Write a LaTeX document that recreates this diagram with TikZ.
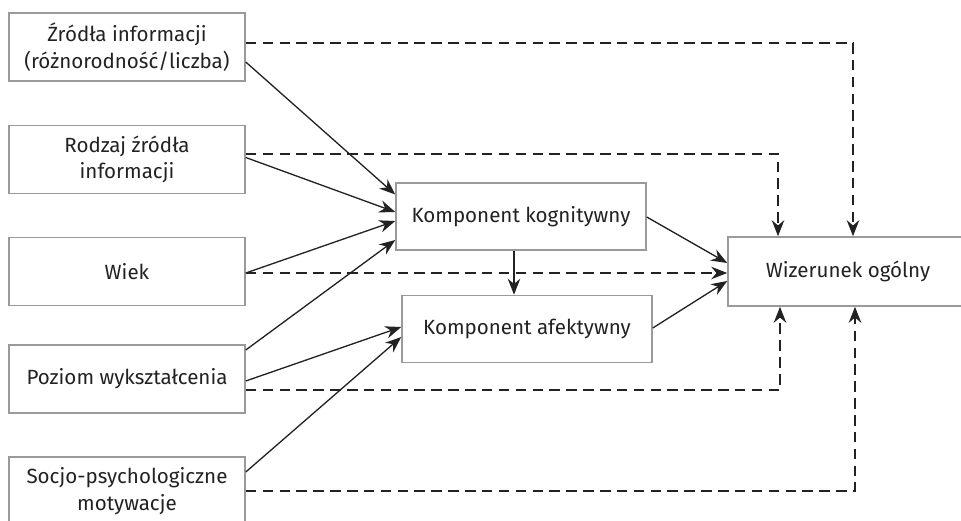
\documentclass[tikz,border=0pt]{standalone}
\usepackage{fontspec}
\setmainfont{Fira Sans}
\usetikzlibrary{arrows.meta,calc}

\definecolor{boxgray}{HTML}{9A9A9A}
\definecolor{inkgray}{HTML}{222222}

\begin{document}
\begin{tikzpicture}[x=0.02cm, y=-0.02cm, >={Stealth[length=3.2mm,width=2.5mm]},
    box/.style={draw=boxgray, line width=0.9pt, fill=white, align=center, text=inkgray,
        font=\fontsize{11.7}{15}\selectfont, inner sep=2pt},
    factor/.style={box, minimum width=4.72cm, minimum height=1.36cm},
    comp/.style={box, minimum width=5cm, minimum height=1.34cm},
    solid link/.style={->, inkgray, line width=0.75pt},
    dash link/.style={->, inkgray, line width=0.75pt, dash pattern=on 6pt off 3.6pt}]
    \useasboundingbox (0,0) rectangle (961,521);

    % Factors (left column)
    \node[factor] (zrodla) at (127,47) {Źródła informacji\\(różnorodność/liczba)};
    \node[factor] (rodzaj) at (127,159.5) {Rodzaj źródła\\informacji};
    \node[factor] (wiek) at (127,271.5) {Wiek};
    \node[factor] (poziom) at (127,379) {Poziom wykształcenia};
    \node[factor] (socjo) at (127,491) {Socjo-psychologiczne\\motywacje};

    % Components
    \node[comp] (kogn) at (521,216.5) {Komponent kognitywny};
    \node[comp] (afek) at (527,329) {Komponent afektywny};

    % Overall image
    \node[box, minimum width=4.8cm, minimum height=1.38cm] (wiz) at (848,271.5) {Wizerunek ogólny};
    \coordinate (kdown) at ($(kogn.south)+(-7,0)$);

    % Solid paths to the components
    \draw[solid link] ($(zrodla.east)+(0,15)$) -- ($(kogn.west)+(0,-22)$);
    \draw[solid link] ($(rodzaj.east)+(0,-2)$) -- ($(kogn.west)+(0,-4.5)$);
    \draw[solid link] ($(wiek.east)+(0,1.5)$) -- ($(kogn.west)+(0,4.5)$);
    \draw[solid link] ($(poziom.east)+(0,-29)$) -- ($(kogn.west)+(0,23.5)$);
    \draw[solid link] ($(poziom.east)+(0,2)$) -- ($(afek.west)+(0,-2)$);
    \draw[solid link] ($(socjo.east)+(0,-19)$) -- ($(afek.west)+(0,8)$);
    \draw[solid link] (kdown) -- (kdown |- afek.north);
    \draw[solid link] ($(kogn.east)+(0,0.5)$) -- ($(wiz.west)+(0,-8.5)$);
    \draw[solid link] ($(afek.east)+(0,-1)$) -- ($(wiz.west)+(0,9.5)$);

    % Dashed paths straight to the image
    \draw[dash link] ($(zrodla.east)+(0,-4)$) -| ($(wiz.north)+(5,0)$);
    \draw[dash link] ($(rodzaj.east)+(0,-5.5)$) -| ($(wiz.north)+(-70,0)$);
    \draw[dash link] ($(wiek.east)+(0,1.5)$) -- ($(wiz.west)+(0,1.5)$);
    \draw[dash link] ($(poziom.east)+(0,11)$) -| ($(wiz.south)+(-68,0)$);
    \draw[dash link] (socjo.east) -| ($(wiz.south)+(7,0)$);
\end{tikzpicture}
\end{document}
